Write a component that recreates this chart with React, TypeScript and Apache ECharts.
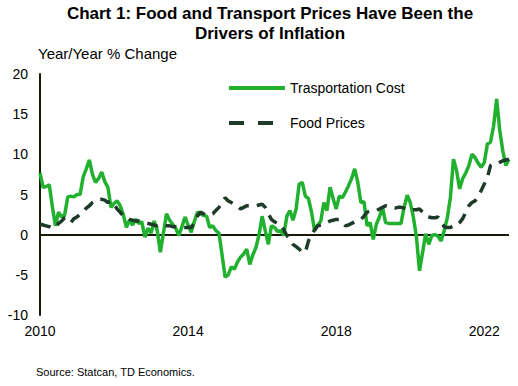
import React, { useEffect, useRef } from "react";
import * as echarts from "echarts";

const startYear = 2010;
const monthCount = 153; // Jan 2010 .. Sep 2022
const months: string[] = Array.from({ length: monthCount }, (_, i) => {
  const y = startYear + Math.floor(i / 12);
  const m = (i % 12) + 1;
  return `${y}-${m < 10 ? "0" + m : m}`;
});

const transport: number[] = [
  7.7, 5.9, 6.0, 6.2, 3.5, 1.1, 2.8, 2.2, 2.5, 4.7, 4.8, 4.7,
  5.0, 5.0, 7.2, 8.2, 9.3, 7.5, 6.5, 7.0, 7.8, 6.6, 5.9, 3.4,
  3.9, 4.2, 3.6, 2.5, 0.9, 1.8, 1.2, 1.9, 1.4, 1.6, -0.3, 0.8,
  0.2, 1.7, 0.5, -2.2, 0.2, 2.6, 1.8, 1.3, 0.8, -0.1, 1.0, 2.2,
  1.2, 0.3, 1.6, 2.8, 2.6, 2.4, 2.3, 0.9, 1.1, 0.5, 0.2, -2.5,
  -5.3, -5.0, -4.0, -4.3, -3.4, -2.8, -2.4, -1.8, -3.7, -2.5, -1.6, 0.0,
  2.3, 0.5, -1.2, 1.1, 0.9, 0.4, 0.5, -0.1, 2.3, 3.0, 1.8, 3.2,
  6.3, 6.5, 4.8, 4.5, 2.8, 0.5, 1.2, 1.7, 4.0, 3.0, 5.9, 4.5,
  3.2, 4.8, 4.6, 5.3, 6.1, 7.0, 8.2, 6.5, 4.0, 4.1, 1.1, 1.5,
  -0.6, 1.3, 2.2, 3.4, 1.5, 1.4, 1.4, 1.4, 1.4, 1.4, 3.4, 4.9,
  4.0, 2.2, -0.3, -4.5, -2.2, 0.1, -1.2, -0.1, 0.0, -0.2, -0.8, 0.5,
  2.1, 4.6, 9.4, 8.0, 5.7, 7.0, 7.7, 8.6, 10.0, 9.6, 8.9, 8.4,
  9.0, 11.3, 11.5, 13.5, 16.9, 13.0, 10.4, 8.6, 9.4,
];

const food: number[] = [
  1.3, 1.2, 1.1, 1.0, 0.8, 0.9, 1.4, 1.7, 2.1, 1.9, 1.5, 2.0,
  2.2, 2.5, 2.8, 3.3, 3.6, 4.0, 4.2, 4.4, 4.4, 4.3, 4.0, 4.2,
  3.8, 3.2, 2.8, 2.3, 2.1, 1.9, 1.8, 1.7, 1.7, 1.6, 1.5, 1.4,
  1.3, 1.2, 1.1, 1.3, 1.2, 1.1, 1.1, 1.0, 1.0, 0.9, 0.9, 0.9,
  0.9, 0.9, 1.5, 2.3, 2.8, 2.6, 2.4, 2.5, 2.6, 3.0, 3.4, 4.0,
  4.6, 4.2, 4.0, 3.8, 3.6, 3.2, 3.4, 3.6, 3.6, 3.6, 3.6, 3.7,
  3.8, 3.4, 2.6, 1.9, 1.6, 1.4, 1.3, 0.6, -0.1, -0.6, -1.2, -1.5,
  -1.8, -2.2, -2.2, -0.8, 0.0, 0.6, 1.1, 1.2, 1.3, 1.5, 1.7, 1.8,
  1.9, 1.9, 1.5, 1.1, 1.2, 1.4, 1.6, 1.8, 1.9, 2.3, 2.8, 2.9,
  2.9, 3.0, 3.2, 3.4, 3.6, 3.5, 3.4, 3.3, 3.4, 3.4, 3.3, 3.1,
  3.0, 3.1, 3.1, 3.2, 2.8, 2.3, 2.2, 2.1, 2.1, 2.2, 1.5, 1.0,
  0.9, 0.9, 1.1, 1.1, 1.5, 2.0, 2.8, 3.6, 4.0, 4.2, 4.8, 5.5,
  6.3, 7.1, 8.6, 8.8, 8.8, 9.0, 9.2, 9.3, 9.4,
];

const yTicks = { min: -10, max: 20, interval: 5 };
const titleText = "Chart 1: Food and Transport Prices Have Been the\nDrivers of Inflation";
const yAxisTitle = "Year/Year % Change";
const sourceText = "Source: Statcan, TD Economics.";
const seriesNames = ["Trasportation Cost", "Food Prices"];

const FONT = "'Liberation Sans', Arial, sans-serif";
const GREEN = "#22b02f";
const DARK = "#1e3b2a";

export default function App() {
  const ref = useRef<HTMLDivElement>(null);
  useEffect(() => {
    document.body.style.margin = "0";
    if (!ref.current) return;
    const chart = echarts.init(ref.current, undefined, { renderer: "svg" });
    chart.setOption({
      animation: false,
      backgroundColor: "#ffffff",
      textStyle: { fontFamily: FONT },
      title: {
        text: titleText,
        left: 265,
        top: -2,
        textAlign: "center",
        textStyle: { fontSize: 17, fontWeight: "bold", color: "#000", lineHeight: 20, fontFamily: FONT },
      },
      graphic: [
        { type: "text", left: 38, top: 46, style: { text: yAxisTitle, fontSize: 15, fill: "#000", fontFamily: FONT } },
        { type: "text", left: 36, top: 366, style: { text: sourceText, fontSize: 11, fill: "#000", fontFamily: FONT } },
      ],
      legend: {
        orient: "vertical",
        left: 227,
        top: 81,
        padding: 0,
        itemWidth: 56,
        itemHeight: 16,
        itemGap: 21,
        itemStyle: { opacity: 0 },
        textStyle: { fontSize: 14, color: "#000", fontFamily: FONT },
        data: [
          { name: seriesNames[0], lineStyle: { width: 4 } },
          { name: seriesNames[1], lineStyle: { type: [15, 14], width: 4 } },
        ],
      },
      grid: { left: 40, right: 9, top: 74, bottom: 71, containLabel: false },
      xAxis: {
        type: "category",
        data: months,
        boundaryGap: false,
        axisLine: { show: false, onZero: false },
        axisTick: { show: false },
        axisLabel: {
          interval: (i: number) => i % 48 === 0,
          formatter: (v: string) => v.slice(0, 4),
          fontSize: 14,
          color: "#000",
          margin: 9,
          fontFamily: FONT,
        },
        splitLine: { show: false },
      },
      yAxis: {
        type: "value",
        min: yTicks.min,
        max: yTicks.max,
        interval: yTicks.interval,
        axisLine: { show: true, lineStyle: { color: "#1a1a0a", width: 2 } },
        axisTick: { show: false },
        splitLine: { show: false },
        axisLabel: { fontSize: 14, color: "#000", margin: 12, fontFamily: FONT },
      },
      series: [
        {
          name: seriesNames[0],
          type: "line",
          data: transport,
          symbol: "none",
          lineStyle: { color: GREEN, width: 3.5 },
          itemStyle: { color: GREEN },
          z: 3,
          markLine: {
            silent: true,
            symbol: "none",
            label: { show: false },
            lineStyle: { color: "#1a1a0a", width: 2, type: "solid" },
            data: [{ yAxis: 0 }],
            z: 1,
          },
        },
        {
          name: seriesNames[1],
          type: "line",
          data: food,
          symbol: "none",
          lineStyle: { color: DARK, width: 3.5, type: [11, 8] },
          itemStyle: { color: DARK },
          z: 4,
        },
      ],
    });
    return () => chart.dispose();
  }, []);
  return <div ref={ref} style={{ width: 518, height: 386 }} />;
}
